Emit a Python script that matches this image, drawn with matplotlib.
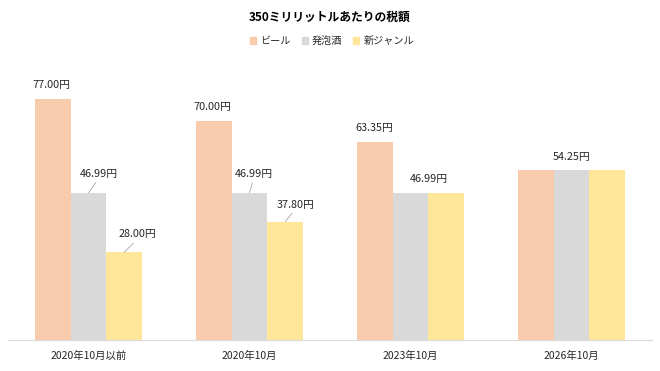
import matplotlib.pyplot as plt
import numpy as np
from matplotlib.patches import Patch

plt.rcParams['font.family'] = ['Noto Sans CJK JP', 'DejaVu Sans']

periods = ["2020年10月以前", "2020年10月", "2023年10月", "2026年10月"]
series_names = ["ビール", "発泡酒", "新ジャンル"]
beer = [77.00, 70.00, 63.35, 54.25]
happoshu = [46.99, 46.99, 46.99, 54.25]
new_genre = [28.00, 37.80, 46.99, 54.25]
colors = ["#F8CBAD", "#D9D9D9", "#FFE699"]

# which bars get a label: (series, group, dx px, dy px, leader line)
labels = [
    (0, 0, -1, 9, False), (1, 0, 10, 14, True), (2, 0, 13, 13, True),
    (0, 1, -1, 9, False), (1, 1, 4, 14, True), (2, 1, 10, 12, True),
    (0, 2, 0, 9, False), (1, 2, 18, 9, False),
    (1, 3, 0, 8, False),
]

fig = plt.figure(figsize=(6.6, 3.71), dpi=100)
ax = fig.add_axes([8 / 660, 31 / 371, 644 / 660, 282 / 371])

x = np.arange(len(periods))
w = 0.222
values = [beer, happoshu, new_genre]
for i, (vals, name, c) in enumerate(zip(values, series_names, colors)):
    ax.bar(x + (i - 1) * w, vals, width=w, color=c, label=name)

for s, g, dx, dy, leader in labels:
    xv = x[g] + (s - 1) * w
    yv = values[s][g]
    ap = dict(arrowstyle='-', color='#A6A6A6', lw=0.6, shrinkA=1, shrinkB=0,
              relpos=(0.5, 0)) if leader else None
    ax.annotate(f"{yv:.2f}円", xy=(xv, yv), xytext=(dx, dy), textcoords='offset pixels',
                ha='center', va='bottom', fontsize=7.8, color='#262626', arrowprops=ap)

ax.set_xlim(-0.5, 3.5)
ax.set_ylim(0, 90)
ax.set_xticks(x)
ax.set_xticklabels(periods, fontsize=7.5, color='#262626')
ax.tick_params(axis='x', length=0, pad=8)
ax.set_yticks([])
for sp in ('top', 'left', 'right'):
    ax.spines[sp].set_visible(False)
ax.spines['bottom'].set_color('#D9D9D9')
ax.spines['bottom'].set_linewidth(0.8)

fig.text(0.5, 1 - 17 / 371, "350ミリリットルあたりの税額", ha='center', va='center',
         fontsize=8.5, fontweight='bold', color='#000000')
handles = [Patch(color=c) for c in colors]
fig.legend(handles, series_names, loc='center', bbox_to_anchor=(332 / 660, 1 - 41 / 371), ncol=3,
           frameon=False, fontsize=7.3, handlelength=0.6, handleheight=0.6,
           handletextpad=0.4, columnspacing=1.1, labelcolor='#262626')

fig.savefig("out.png", dpi=100)
